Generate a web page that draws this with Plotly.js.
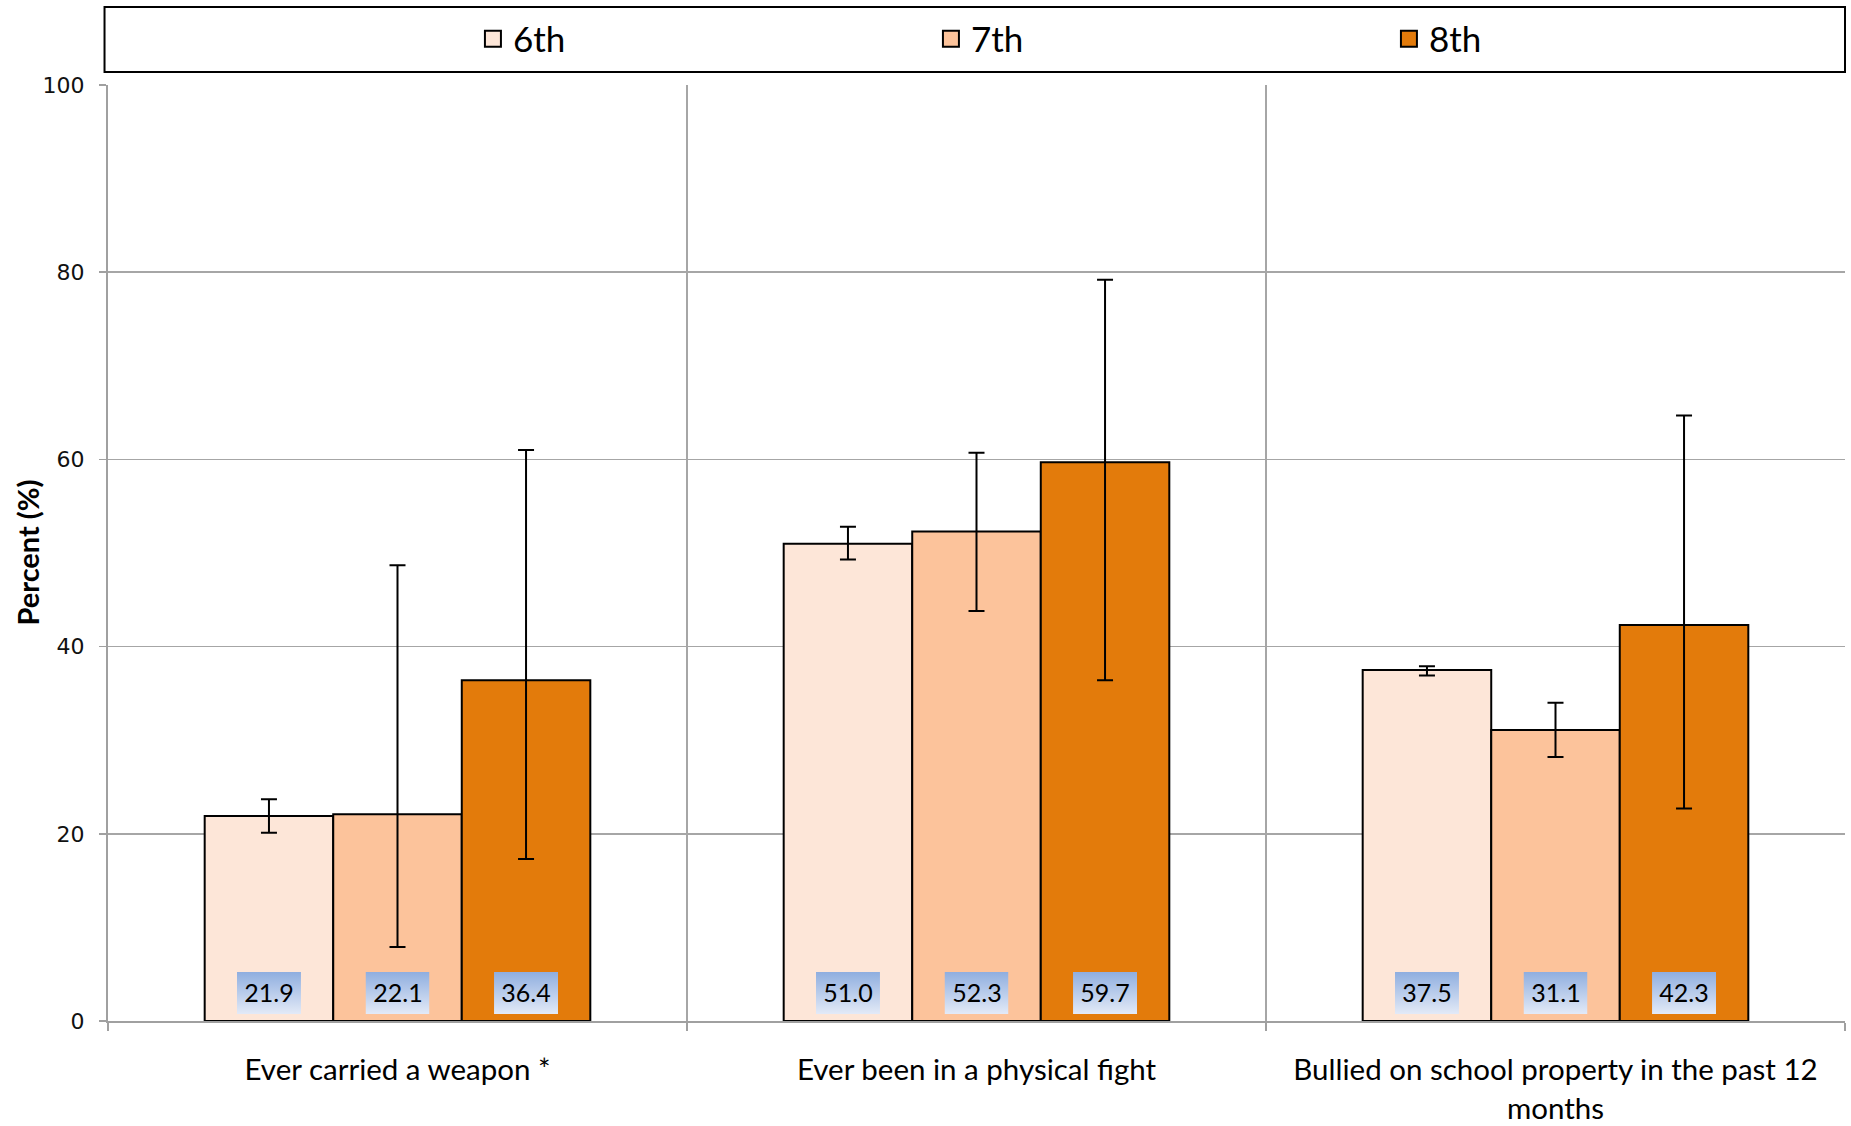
<!DOCTYPE html>
<html><head><meta charset="utf-8">
<script src="https://cdn.plot.ly/plotly-3.0.1.min.js"></script>
<style>html,body{margin:0;padding:0;background:#fff}</style>
</head><body><div id="chart" style="width:1851px;height:1126px"></div>
<script>
const categories = ["Ever carried a weapon *", "Ever been in a physical fight", "Bullied on school property in the past 12<br>months"];
const grades = ["6th", "7th", "8th"];
const values6 = [21.9, 51.0, 37.5];
const values7 = [22.1, 52.3, 31.1];
const values8 = [36.4, 59.7, 42.3];
const upper6 = [23.7, 52.8, 37.9];
const lower6 = [20.1, 49.3, 36.9];
const upper7 = [48.7, 60.7, 34.0];
const lower7 = [7.9, 43.8, 28.2];
const upper8 = [61.0, 79.2, 64.7];
const lower8 = [17.3, 36.4, 22.7];
const yTicks = [0, 20, 40, 60, 80, 100];
const yTitle = 'Percent (%)';

const colors = ['#FDE6D8', '#FCC39B', '#E37B0B'];
const series = [values6, values7, values8];
const uppers = [upper6, upper7, upper8];
const lowers = [lower6, lower7, lower8];
const bargap = 0.334;
const barW = (1 - bargap) / 3;

const W = 1851, H = 1126;
const M = {l: 107.5, r: 6, t: 85, b: 105};
const pxPerX = (W - M.l - M.r) / categories.length;
const pxPerY = (H - M.t - M.b) / 100;
const boxW = 64, boxH = 42, boxGap = 7;

const traces = series.map((vals, i) => ({
  type: 'bar', name: grades[i], x: categories, y: vals, showlegend: false, legendgroup: grades[i],
  marker: {color: colors[i], line: {color: '#000', width: 2}},
  error_y: {type: 'data', symmetric: false,
    array: vals.map((v, j) => +(uppers[i][j] - v).toFixed(2)),
    arrayminus: vals.map((v, j) => +(v - lowers[i][j]).toFixed(2)),
    color: '#000', thickness: 2, width: 8},
  hoverinfo: 'skip'
}));
// legend entries with larger square swatches
grades.forEach((g, i) => traces.push({
  type: 'scatter', mode: 'markers', name: g, legendgroup: g, x: [null], y: [null],
  marker: {symbol: 'square', size: 20, color: colors[i], line: {color: '#000', width: 2}},
  hoverinfo: 'skip'
}));

const gradSvg = "<svg xmlns='http://www.w3.org/2000/svg' width='64' height='42' preserveAspectRatio='none' viewBox='0 0 64 42'>" +
  "<defs><linearGradient id='g' x1='0' y1='0' x2='0' y2='1'><stop offset='0' stop-color='#8FAEDF'/>" +
  "<stop offset='1' stop-color='#E3EAF7'/></linearGradient></defs><rect width='64' height='42' fill='url(#g)'/></svg>";
const gradSrc = 'data:image/svg+xml;charset=utf-8,' + encodeURIComponent(gradSvg);

const annotations = [];
const images = [];
series.forEach((vals, i) => {
  vals.forEach((v, j) => {
    const xc = j + (i - 1) * barW;
    images.push({source: gradSrc, xref: 'x', yref: 'y', x: xc, y: boxGap / pxPerY,
      xanchor: 'center', yanchor: 'bottom', sizex: boxW / pxPerX, sizey: boxH / pxPerY,
      sizing: 'stretch', layer: 'above'});
    annotations.push({
      x: xc, y: 0, xref: 'x', yref: 'y', yanchor: 'bottom', yshift: boxGap,
      text: v.toFixed(1), showarrow: false,
      font: {family: 'Lato, "Open Sans", sans-serif', size: 25, color: '#000'},
      width: boxW, height: boxH, borderpad: 0
    });
  });
});
// y-axis title
annotations.push({xref: 'paper', yref: 'paper', x: 0, y: 0.5, xanchor: 'center', yanchor: 'middle',
  xshift: 26 - M.l, textangle: -90, showarrow: false, text: '<b>' + yTitle + '</b>',
  font: {family: 'Lato, "Open Sans", sans-serif', size: 29, color: '#000'}});

const layout = {
  width: W, height: H,
  margin: {l: M.l, r: M.r, t: M.t, b: M.b, autoexpand: false},
  paper_bgcolor: '#fff', plot_bgcolor: '#fff',
  barmode: 'group', bargap: bargap, bargroupgap: 0,
  showlegend: true,
  legend: {orientation: 'h', xref: 'container', yref: 'container', x: 0.2555, xanchor: 'left', y: 0.9654, yanchor: 'middle',
    entrywidth: 413, entrywidthmode: 'pixels', bgcolor: 'rgba(0,0,0,0)', borderwidth: 0, itemsizing: 'trace',
    font: {family: 'Lato, "Open Sans", sans-serif', size: 35, color: '#000'}, traceorder: 'normal'},
  xaxis: {type: 'category', range: [-0.5, 2.5], tickson: 'boundaries', ticks: 'outside', ticklen: 8,
    tickcolor: '#a0a0a0', tickwidth: 1.5, showgrid: true, gridcolor: '#a6a6a6', gridwidth: 1.5,
    showline: true, linecolor: '#a0a0a0', linewidth: 2, ticklabelstandoff: 22,
    tickfont: {family: 'Lato, "Open Sans", sans-serif', size: 29.5, color: '#000'}},
  yaxis: {range: [0, 100], tickvals: yTicks, ticks: 'outside', ticklen: 7, tickcolor: '#a0a0a0', tickwidth: 1.5,
    showgrid: true, gridcolor: '#a6a6a6', gridwidth: 1.5, zeroline: false,
    showline: true, linecolor: '#a0a0a0', linewidth: 2, ticklabelstandoff: 10,
    tickfont: {family: '"DejaVu Sans", sans-serif', size: 22, color: '#111'}},
  shapes: [{type: 'rect', xref: 'paper', yref: 'paper', x0: -0.002, x1: 1.0, y0: 1.0139, y1: 1.0833,
    line: {color: '#000', width: 2}, fillcolor: 'rgba(0,0,0,0)'}],
  images: images,
  annotations: annotations
};

Plotly.newPlot('chart', traces, layout, {displayModeBar: false, staticPlot: true});
</script>
</body></html>
